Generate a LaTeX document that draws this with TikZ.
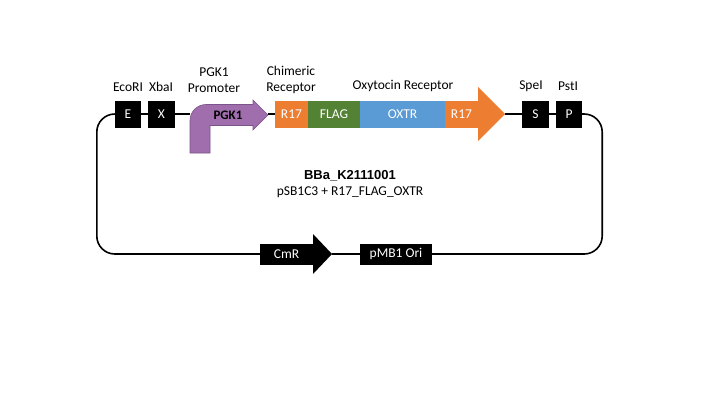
\documentclass[tikz,border=0pt]{standalone}
\usepackage{fontspec}
\setmainfont{Carlito}
\newfontfamily\arialfont{Liberation Sans}
\usetikzlibrary{positioning, calc}
\definecolor{pgkpurple}{RGB}{160,110,172}
\definecolor{pgkedge}{RGB}{122,84,138}
\definecolor{rorange}{RGB}{237,125,49}
\definecolor{flaggreen}{RGB}{84,130,53}
\definecolor{oxtrblue}{RGB}{91,155,213}

\begin{document}
\begin{tikzpicture}[x=1pt, y=-1pt, every node/.style={font=\fontsize{13.5}{15.5}\selectfont},
  site/.style={fill=black, text=white, minimum width=26pt, minimum height=27pt, inner sep=0pt},
  part/.style={text=white, minimum height=27pt, inner sep=0pt},
  backbone/.style={line width=1.6pt}]
  \useasboundingbox (0,0) rectangle (720,405);

  % Restriction sites
  \node[site] (E) at (128,114) {E};
  \node[site, minimum width=27pt] (X) at (161.5,114) {X};
  \node[site, minimum width=27pt] (S) at (535.5,114) {S};
  \node[site] (P) at (569,114) {P};

  % PGK1 promoter (bent arrow)
  \filldraw[fill=pgkpurple, draw=pgkedge, line width=0.6pt]
    (190,153) [rounded corners=16pt] -- (190,104.5) [sharp corners] -- (253,104.5)
    -- (253,100) -- (268,115) -- (253,130) -- (253,125.5) -- (210,125.5) -- (210,153) -- cycle;
  \node[font=\bfseries\fontsize{13}{15}\selectfont] (PGK) at (228,115) {PGK1};
  \coordinate (PGKin) at (190,114);
  \coordinate (PGKtip) at (268,114);

  % Chimeric receptor parts
  \node[part, fill=rorange, minimum width=33pt] (R17a) at (291.5,114) {R17};
  \node[part, fill=flaggreen, minimum width=52pt] (FLAG) at (334,114) {FLAG};
  \node[part, fill=oxtrblue, minimum width=85pt] (OXTR) at (402.5,114) {OXTR};
  \fill[rorange] (445,100.5) rectangle (478,127.5);
  \fill[rorange] (478,87) -- (505,114) -- (478,141) -- cycle;
  \node[part] (R17b) at (461.5,114) {R17};
  \coordinate (R17tip) at (505,114);

  % Backbone parts
  \node[site, minimum width=53pt, minimum height=21pt] (CmR) at (286.5,254) {CmR};
  \fill (313,234) -- (332,254) -- (313,274) -- cycle;
  \coordinate (CmRtip) at (332,254);
  \node[site, minimum width=72pt, minimum height=21pt] (Ori) at (396,254) {pMB1 Ori};

  % Backbone lines
  \draw[backbone, rounded corners=18pt] (E.west) -- ++(-18,0) |- (CmR.west);
  \draw[backbone, rounded corners=18pt] (P.east) -- ++(20,0) |- (Ori.east);
  \draw[backbone] (CmRtip) -- (Ori.west);
  \draw[backbone] (E.east) -- (X.west);
  \draw[backbone] (X.east) -- (PGKin);
  \draw[backbone] (PGKtip) -- (R17a.west);
  \draw[backbone] (R17tip) -- (S.west);
  \draw[backbone] (S.east) -- (P.west);

  % Labels
  \node (lE) at (128,87) {EcoRI};
  \node (lX) at (161,87) {XbaI};
  \node[align=center] (lPGK) at (214,80) {PGK1\\Promoter};
  \node[align=center] (lchim) at (291,80) {Chimeric\\Receptor};
  \node (lOXTR) at (403,86) {Oxytocin Receptor};
  \node (lS) at (531,86) {SpeI};
  \node (lP) at (568,86) {PstI};

  % Title
  \node[font=\arialfont\bfseries\fontsize{13}{15}\selectfont] (title) at (350,176) {BBa\_K2111001};
  \node (sub) at (350,192) {pSB1C3 + R17\_FLAG\_OXTR};
\end{tikzpicture}
\end{document}
